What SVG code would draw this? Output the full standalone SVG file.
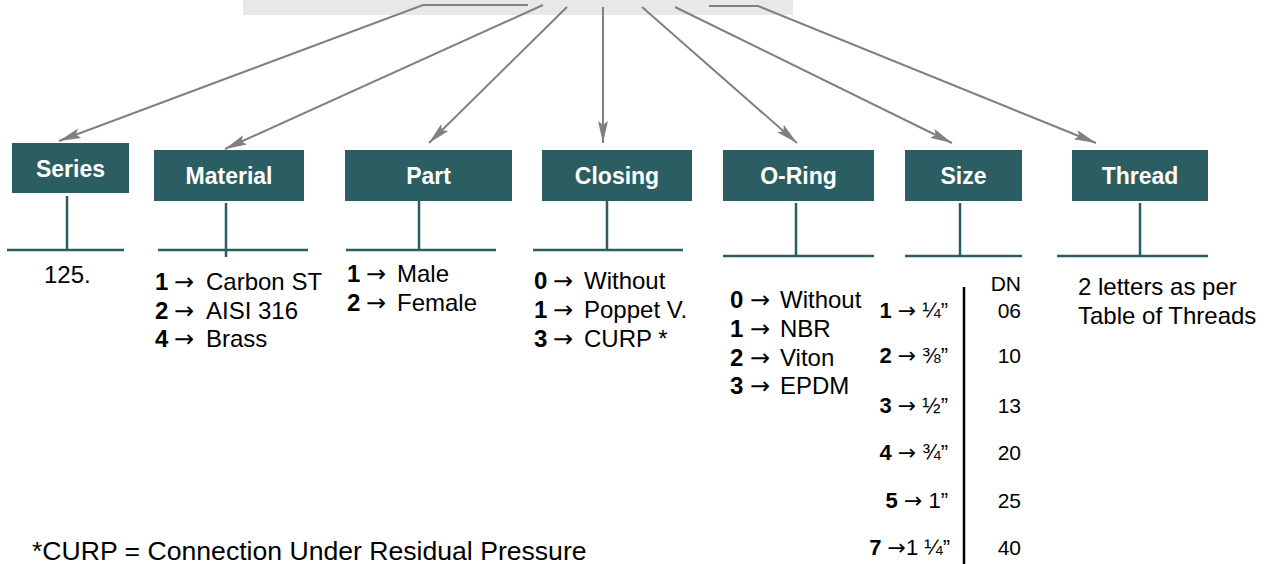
<svg xmlns="http://www.w3.org/2000/svg" width="1274" height="564" viewBox="0 0 1274 564">
<style>
.box{fill:#2B5E62}
.lbl{font-family:"Liberation Sans",Arial,sans-serif;font-weight:bold;font-size:23px;fill:#fff;text-anchor:middle}
.stem{stroke:#2B5E62;stroke-width:2.5;fill:none}
.t{font-family:"Liberation Sans",Arial,"DejaVu Sans",sans-serif;font-size:24px;fill:#000}
.s{font-family:"Liberation Sans",Arial,"DejaVu Sans",sans-serif;font-size:21px;fill:#000}
.sz{font-family:"Liberation Sans",Arial,"DejaVu Sans",sans-serif;font-size:22px;fill:#000;text-anchor:end}
.b{font-weight:bold}
.a{font-family:"DejaVu Sans",sans-serif}
.con{stroke:#808080;stroke-width:2;fill:none}
</style>
<defs>
<marker id="ah" markerUnits="userSpaceOnUse" markerWidth="24" markerHeight="12" refX="22" refY="5" orient="auto">
<path d="M0,0 L22,5 L0,10 L4,5 Z" fill="#808080"/>
</marker>
</defs>
<rect x="243" y="0" width="550" height="15" fill="#E8E8E8"/>
<g id="connectors">
<polyline class="con" points="528,5 423,5 59,141" marker-end="url(#ah)"/>
<line class="con" x1="543" y1="5" x2="225" y2="149" marker-end="url(#ah)"/>
<line class="con" x1="567" y1="7" x2="429" y2="143" marker-end="url(#ah)"/>
<line class="con" x1="603" y1="7" x2="603" y2="143" marker-end="url(#ah)"/>
<line class="con" x1="642" y1="7" x2="797" y2="143" marker-end="url(#ah)"/>
<line class="con" x1="675" y1="7" x2="952" y2="143" marker-end="url(#ah)"/>
<polyline class="con" points="709,6 758,6 1096,143" marker-end="url(#ah)"/>
</g>
<g id="series">
<rect class="box" x="12" y="143" width="117" height="50"/>
<text class="lbl" x="70.5" y="177">Series</text>
<path class="stem" d="M67,196 V250 M7,250 H124"/>
<text class="t" x="44" y="283">125.</text>
</g>
<g id="material">
<rect class="box" x="154" y="150" width="150" height="51"/>
<text class="lbl" x="229" y="184">Material</text>
<path class="stem" d="M226,203 V257 M158,250 H308"/>
<text class="t" y="290"><tspan x="155" class="b">1</tspan><tspan x="174" class="a">→</tspan><tspan x="206">Carbon ST</tspan></text>
<text class="t" y="319"><tspan x="155" class="b">2</tspan><tspan x="174" class="a">→</tspan><tspan x="206">AISI 316</tspan></text>
<text class="t" y="347"><tspan x="155" class="b">4</tspan><tspan x="174" class="a">→</tspan><tspan x="206">Brass</tspan></text>
</g>
<g id="part">
<rect class="box" x="345" y="150" width="167" height="51"/>
<text class="lbl" x="428.5" y="184">Part</text>
<path class="stem" d="M419,201 V250 M346,250 H496"/>
<text class="t" y="282"><tspan x="347" class="b">1</tspan><tspan x="366" class="a">→</tspan><tspan x="397">Male</tspan></text>
<text class="t" y="311"><tspan x="347" class="b">2</tspan><tspan x="366" class="a">→</tspan><tspan x="397">Female</tspan></text>
</g>
<g id="closing">
<rect class="box" x="542" y="150" width="150" height="51"/>
<text class="lbl" x="617" y="184">Closing</text>
<path class="stem" d="M607,201 V250 M533,250 H683"/>
<text class="t" y="289"><tspan x="534" class="b">0</tspan><tspan x="553" class="a">→</tspan><tspan x="584">Without</tspan></text>
<text class="t" y="318"><tspan x="534" class="b">1</tspan><tspan x="553" class="a">→</tspan><tspan x="584">Poppet V.</tspan></text>
<text class="t" y="347"><tspan x="534" class="b">3</tspan><tspan x="553" class="a">→</tspan><tspan x="584">CURP *</tspan></text>
<text class="t" x="32" y="560" style="font-size:26.6px">*CURP = Connection Under Residual Pressure</text>
</g>
<g id="oring">
<rect class="box" x="723" y="150" width="151" height="51"/>
<text class="lbl" x="798.5" y="184">O-Ring</text>
<path class="stem" d="M796,203 V256 M723,256 H874"/>
<text class="t" y="308"><tspan x="730" class="b">0</tspan><tspan x="750" class="a">→</tspan><tspan x="780">Without</tspan></text>
<text class="t" y="337"><tspan x="730" class="b">1</tspan><tspan x="750" class="a">→</tspan><tspan x="780">NBR</tspan></text>
<text class="t" y="366"><tspan x="730" class="b">2</tspan><tspan x="750" class="a">→</tspan><tspan x="780">Viton</tspan></text>
<text class="t" y="394"><tspan x="730" class="b">3</tspan><tspan x="750" class="a">→</tspan><tspan x="780">EPDM</tspan></text>
</g>
<g id="size">
<rect class="box" x="905" y="150" width="117" height="51"/>
<text class="lbl" x="963.5" y="184">Size</text>
<path class="stem" d="M960,203 V256 M905,256 H1022"/>
<line x1="964" y1="287" x2="964" y2="565" stroke="#000" stroke-width="2.5"/>
<text class="sz" x="948" y="318"><tspan class="b">1</tspan> <tspan class="a">→</tspan> ¼”</text>
<text class="sz" x="948" y="363"><tspan class="b">2</tspan> <tspan class="a">→</tspan> ⅜”</text>
<text class="sz" x="948" y="413"><tspan class="b">3</tspan> <tspan class="a">→</tspan> ½”</text>
<text class="sz" x="948" y="460"><tspan class="b">4</tspan> <tspan class="a">→</tspan> ¾”</text>
<text class="sz" x="948" y="508"><tspan class="b">5</tspan> <tspan class="a">→</tspan> 1”</text>
<text class="sz" x="950" y="555"><tspan class="b">7</tspan> <tspan class="a">→</tspan>1 ¼”</text>
<text class="s" x="1021" y="291" text-anchor="end">DN</text>
<text class="s" x="1021" y="318" text-anchor="end">06</text>
<text class="s" x="1021" y="363" text-anchor="end">10</text>
<text class="s" x="1021" y="413" text-anchor="end">13</text>
<text class="s" x="1021" y="460" text-anchor="end">20</text>
<text class="s" x="1021" y="508" text-anchor="end">25</text>
<text class="s" x="1021" y="555" text-anchor="end">40</text>
</g>
<g id="thread">
<rect class="box" x="1072" y="150" width="136" height="51"/>
<text class="lbl" x="1140" y="184">Thread</text>
<path class="stem" d="M1140,203 V256 M1057,256 H1208"/>
<text class="t" x="1078" y="295">2 letters as per</text>
<text class="t" x="1078" y="324">Table of Threads</text>
</g>
</svg>
